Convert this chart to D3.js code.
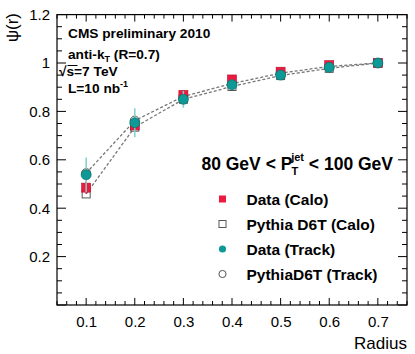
<!DOCTYPE html>
<html><head><meta charset="utf-8">
<script src="https://cdn.jsdelivr.net/npm/d3@7"></script>
<style>
body{margin:0;background:#fff;}
text{font-family:"Liberation Sans",Arial,Helvetica,sans-serif;}
</style></head>
<body><svg id="c" width="415" height="354"></svg>
<script>
const radius = [0.1,0.2,0.3,0.4,0.5,0.6,0.7];
const dataCalo = [0.485,0.742,0.868,0.932,0.964,0.991,1.0];
const dataCaloErr = [0.025,0.02,0.02,0.012,0.008,0.005,0.002];
const pythiaCalo = [0.459,0.735,0.850,0.903,0.948,0.978,1.0];
const dataTrack = [0.538,0.753,0.850,0.910,0.950,0.982,1.0];
const dataTrackErr = [0.072,0.06,0.035,0.022,0.01,0.006,0.002];
const pythiaTrack = [0.545,0.762,0.862,0.915,0.958,0.986,1.0];
const yTicks = [0.2,0.4,0.6,0.8,1.0,1.2];
const xTicks = [0.1,0.2,0.3,0.4,0.5,0.6,0.7];
const legendLabels = ["Data (Calo)","Pythia D6T (Calo)","Data (Track)","PythiaD6T (Track)"];

const svg = d3.select("#c");
const L=57,R=407,T=14.6,B=305;
const x = d3.scaleLinear().domain([0.04,0.76]).range([L,R]);
const y = d3.scaleLinear().domain([0,1.2]).range([B,T]);
const red="#ec1a3f", redDark="#b0102c", teal="#0d9a96", tealDark="#0a6f6c", tealErr="#7fd0cc";

// frame
svg.append("rect").attr("x",L).attr("y",T).attr("width",R-L).attr("height",B-T)
  .attr("fill","none").attr("stroke","#000").attr("stroke-width",1.2);

// ticks
const yMinor = d3.range(0,1.2001,0.05);
const xMinor = d3.range(0.04,0.7601,0.02);
const isMajorY = v => Math.abs(v/0.2-Math.round(v/0.2))<1e-6;
const isMajorX = v => Math.abs(v/0.1-Math.round(v/0.1))<1e-6;
yMinor.forEach(v=>{
  const len = isMajorY(v)?9:5;
  const yy=y(v);
  svg.append("line").attr("x1",L).attr("x2",L+len).attr("y1",yy).attr("y2",yy).attr("stroke","#000");
  svg.append("line").attr("x1",R).attr("x2",R-len).attr("y1",yy).attr("y2",yy).attr("stroke","#000");
});
xMinor.forEach(v=>{
  const len = isMajorX(v)?7:4;
  const xx=x(v);
  svg.append("line").attr("x1",xx).attr("x2",xx).attr("y1",B).attr("y2",B-len).attr("stroke","#000");
  svg.append("line").attr("x1",xx).attr("x2",xx).attr("y1",T).attr("y2",T+len).attr("stroke","#000");
});
// tick labels via d3 axes (no tick lines)
const yAxis = d3.axisLeft(y).tickValues(yTicks).tickSize(0).tickPadding(7).tickFormat(d=>d3.format("")(+d.toFixed(1)));
const gy = svg.append("g").attr("transform",`translate(${L},0)`).call(yAxis);
gy.select(".domain").remove();
gy.selectAll("text").attr("font-size",15).attr("font-family","Liberation Sans, Arial").attr("fill","#000");
const xAxis = d3.axisBottom(x).tickValues(xTicks).tickSize(0).tickPadding(11).tickFormat(d3.format(".1f"));
const gx = svg.append("g").attr("transform",`translate(0,${B})`).call(xAxis);
gx.select(".domain").remove();
gx.selectAll("text").attr("font-size",15).attr("font-family","Liberation Sans, Arial").attr("fill","#000");

// axis titles
svg.append("text").attr("x",R).attr("y",349).attr("text-anchor","end").attr("font-size",17).text("Radius");
svg.append("text").attr("transform","translate(18,13) rotate(-90)").attr("text-anchor","end").attr("font-size",17).text("ψ(r)");

// dashed pythia lines
const line = d3.line().x((d,i)=>x(radius[i])).y(d=>y(d));
[pythiaTrack,pythiaCalo].forEach(s=>{
  svg.append("path").attr("d",line(s)).attr("fill","none").attr("stroke","#777")
    .attr("stroke-width",1.3).attr("stroke-dasharray","3,2");
});

// pythia markers
radius.forEach((r,i)=>{
  svg.append("rect").attr("x",x(r)-4).attr("y",y(pythiaCalo[i])-4).attr("width",8).attr("height",8)
    .attr("fill","none").attr("stroke","#555").attr("stroke-width",1);
  svg.append("circle").attr("cx",x(r)).attr("cy",y(pythiaTrack[i])).attr("r",4.5)
    .attr("fill","none").attr("stroke","#555").attr("stroke-width",1);
});
// data calo
radius.forEach((r,i)=>{
  svg.append("line").attr("x1",x(r)).attr("x2",x(r)).attr("y1",y(dataCalo[i]-dataCaloErr[i])).attr("y2",y(dataCalo[i]+dataCaloErr[i]))
    .attr("stroke",red).attr("stroke-width",1.5);
  svg.append("rect").attr("x",x(r)-4.5).attr("y",y(dataCalo[i])-4.5).attr("width",9).attr("height",9)
    .attr("fill",red).attr("stroke",redDark).attr("stroke-width",0.6);
});
// data track
radius.forEach((r,i)=>{
  svg.append("line").attr("x1",x(r)).attr("x2",x(r)).attr("y1",y(dataTrack[i]-dataTrackErr[i])).attr("y2",y(dataTrack[i]+dataTrackErr[i]))
    .attr("stroke",tealErr).attr("stroke-width",1.5);
  svg.append("circle").attr("cx",x(r)).attr("cy",y(dataTrack[i])).attr("r",5)
    .attr("fill",teal).attr("stroke",tealDark).attr("stroke-width",0.7);
});

// labels
const info = svg.append("g").attr("font-weight","bold").attr("font-size",13.7);
info.append("text").attr("x",68).attr("y",38).text("CMS preliminary 2010");
const t2 = info.append("text").attr("x",68).attr("y",59);
t2.append("tspan").text("anti-k");
t2.append("tspan").attr("font-size",9).attr("dy",3).text("T");
t2.append("tspan").attr("dy",-3).text(" (R=0.7)");
const t3 = info.append("text").attr("x",59).attr("y",76);
t3.append("tspan").text("√s=7 TeV");
svg.append("line").attr("x1",67.5).attr("x2",77.5).attr("y1",65.5).attr("y2",65.5).attr("stroke","#000").attr("stroke-width",1);
const t4 = info.append("text").attr("x",68).attr("y",93);
t4.append("tspan").text("L=10 nb");
t4.append("tspan").attr("font-size",9).attr("dy",-6).text("-1");

const hd = svg.append("text").attr("x",393).attr("y",170).attr("text-anchor","end").attr("font-weight","bold").attr("font-size",17.5);
hd.append("tspan").text("80 GeV < P");
hd.append("tspan").attr("font-size",11).attr("dy",5).attr("dx",-1).text("T");
hd.append("tspan").attr("font-size",11).attr("dy",-14).attr("dx",-7).text("jet");
hd.append("tspan").attr("dy",9).text(" < 100 GeV");

// legend
const ly = [199,224,249,274];
const lx = 222.5;
svg.append("rect").attr("x",lx-3.5).attr("y",ly[0]-3.5).attr("width",7).attr("height",7).attr("fill",red);
svg.append("rect").attr("x",lx-3.5).attr("y",ly[1]-3.5).attr("width",7).attr("height",7).attr("fill","none").attr("stroke","#555");
svg.append("circle").attr("cx",lx).attr("cy",ly[2]).attr("r",3.6).attr("fill",teal);
svg.append("circle").attr("cx",lx).attr("cy",ly[3]).attr("r",3.6).attr("fill","none").attr("stroke","#555");
legendLabels.forEach((t,i)=>{
  svg.append("text").attr("x",246.5).attr("y",ly[i]+5.5).attr("font-weight","bold").attr("font-size",15.5).text(t);
});
</script></body></html>
